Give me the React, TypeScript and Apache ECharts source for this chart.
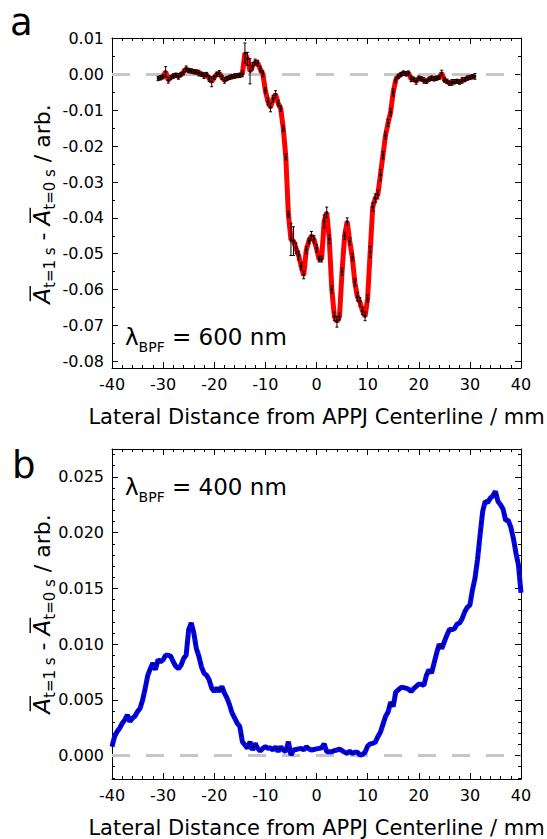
import React, { useEffect, useRef } from "react";
import * as echarts from "echarts";

// ---------- Panel a (λ_BPF = 600 nm) ----------
const X_A = [
  -31, -30.5, -30, -29.5, -29, -28.5, -28, -27.5, -27, -26.5,
  -26, -25.5, -25, -24.5, -24, -23.5, -23, -22.5, -22, -21.5,
  -21, -20.5, -20, -19.5, -19, -18.5, -18, -17.5, -17, -16.5,
  -16, -15.5, -15, -14.5, -14, -13.5, -13, -12.5, -12, -11.5,
  -11, -10.5, -10, -9.5, -9, -8.5, -8, -7.5, -7, -6.5,
  -6, -5.5, -5, -4.5, -4, -3.5, -3, -2.5, -2, -1.5,
  -1, -0.5, 0, 0.5, 1, 1.5, 2, 2.5, 3, 3.5,
  4, 4.5, 5, 5.5, 6, 6.5, 7, 7.5, 8, 8.5,
  9, 9.5, 10, 10.5, 11, 11.5, 12, 12.5, 13, 13.5,
  14, 14.5, 15, 15.5, 16, 16.5, 17, 17.5, 18, 18.5,
  19, 19.5, 20, 20.5, 21, 21.5, 22, 22.5, 23, 23.5,
  24, 24.5, 25, 25.5, 26, 26.5, 27, 27.5, 28, 28.5,
  29, 29.5, 30, 30.5, 31,
];
const Y_A = [
  -0.0011, -0.0009, -0.0006, 0.0008, -0.0016, -0.0008, -0.0004, -0.0002, -0.0005, 0.0,
  0.0007, 0.0016, 0.0011, 0.001, 0.0008, 0.0007, 0.0004, 0.0001, -0.0003, 0.0,
  -0.0011, -0.002, -0.0008, 0.0001, 0.0003, -0.0008, -0.0016, -0.0011, -0.0008, -0.0006,
  -0.0004, -0.0003, -0.0002, 0.0002, 0.006, 0.0044, 0.0009, 0.0023, 0.0035, 0.0032,
  0.0015, 0.0002, -0.0045, -0.0075, -0.0092, -0.0068, -0.0055, -0.008, -0.0095, -0.015,
  -0.023, -0.039, -0.046, -0.0465, -0.0485, -0.0505, -0.0535, -0.056, -0.049, -0.0465,
  -0.045, -0.046, -0.0485, -0.0515, -0.0515, -0.041, -0.0385, -0.046, -0.06, -0.0675,
  -0.069, -0.0675, -0.055, -0.045, -0.041, -0.0465, -0.051, -0.058, -0.062, -0.0635,
  -0.066, -0.0675, -0.0625, -0.0495, -0.037, -0.0345, -0.0335, -0.028, -0.0225, -0.017,
  -0.0135, -0.0105, -0.005, -0.0015, -0.0005, 0.0, 0.0004, 0.0002, 0.0004, -0.0012,
  -0.0013, -0.0019, -0.001, -0.0012, -0.0016, -0.0019, -0.0013, -0.001, -0.0012, -0.001,
  -0.0008, 0.0004, -0.0015, -0.0019, -0.0024, -0.0022, -0.002, -0.0019, -0.0021, -0.0016,
  -0.0014, -0.001, -0.0008, -0.0006, -0.0005,
];
const ERR_A = [
  0.0006, 0.0006, 0.0006, 0.0014, 0.0008, 0.0006, 0.0006, 0.0006, 0.0008, 0.0006,
  0.0008, 0.0008, 0.0006, 0.0006, 0.0006, 0.0006, 0.0008, 0.0006, 0.0008, 0.0006,
  0.0008, 0.0014, 0.0006, 0.0006, 0.0008, 0.0006, 0.0008, 0.0006, 0.0006, 0.0006,
  0.0006, 0.0006, 0.0006, 0.0008, 0.0028, 0.0018, 0.0035, 0.001, 0.0008, 0.0008,
  0.0008, 0.0008, 0.0008, 0.001, 0.0012, 0.001, 0.001, 0.0008, 0.0008, 0.0008,
  0.0008, 0.0008, 0.0045, 0.004, 0.0015, 0.0012, 0.001, 0.001, 0.001, 0.0008,
  0.0012, 0.001, 0.001, 0.0008, 0.0008, 0.0018, 0.0015, 0.0012, 0.001, 0.0012,
  0.0015, 0.001, 0.001, 0.001, 0.001, 0.001, 0.001, 0.001, 0.0012, 0.0012,
  0.001, 0.0012, 0.001, 0.0015, 0.0012, 0.0012, 0.0012, 0.0015, 0.001, 0.001,
  0.001, 0.001, 0.001, 0.0008, 0.0006, 0.0006, 0.0006, 0.0006, 0.0006, 0.0008,
  0.0006, 0.0008, 0.0006, 0.0006, 0.0008, 0.0006, 0.0006, 0.0006, 0.0006, 0.0006,
  0.0006, 0.0008, 0.0006, 0.0006, 0.0006, 0.0008, 0.0006, 0.0006, 0.0006, 0.0008,
  0.0006, 0.0006, 0.0006, 0.0006, 0.0008,
];

// ---------- Panel b (λ_BPF = 400 nm) ----------
const X_B = [
  -40, -39.5, -39, -38.5, -38, -37.5, -37, -36.5, -36, -35.5,
  -35, -34.5, -34, -33.5, -33, -32.5, -32, -31.5, -31, -30.5,
  -30, -29.5, -29, -28.5, -28, -27.5, -27, -26.5, -26, -25.5,
  -25, -24.5, -24, -23.5, -23, -22.5, -22, -21.5, -21, -20.5,
  -20, -19.5, -19, -18.5, -18, -17.5, -17, -16.5, -16, -15.5,
  -15, -14.5, -14, -13.5, -13, -12.5, -12, -11.5, -11, -10.5,
  -10, -9.5, -9, -8.5, -8, -7.5, -7, -6.5, -6, -5.5,
  -5, -4.5, -4, -3.5, -3, -2.5, -2, -1.5, -1, -0.5,
  0, 0.5, 1, 1.5, 2, 2.5, 3, 3.5, 4, 4.5,
  5, 5.5, 6, 6.5, 7, 7.5, 8, 8.5, 9, 9.5,
  10, 10.5, 11, 11.5, 12, 12.5, 13, 13.5, 14, 14.5,
  15, 15.5, 16, 16.5, 17, 17.5, 18, 18.5, 19, 19.5,
  20, 20.5, 21, 21.5, 22, 22.5, 23, 23.5, 24, 24.5,
  25, 25.5, 26, 26.5, 27, 27.5, 28, 28.5, 29, 29.5,
  30, 30.5, 31, 31.5, 32, 32.5, 33, 33.5, 34, 34.5,
  35, 35.5, 36, 36.5, 37, 37.5, 38, 38.5, 39, 39.5,
  40,
];
const Y_B = [
  0.0008, 0.0017, 0.00215, 0.00245, 0.0029, 0.0032, 0.00365, 0.00305, 0.00335, 0.00355,
  0.00395, 0.00425, 0.005, 0.00605, 0.0072, 0.0078, 0.0083, 0.0077, 0.0086, 0.0084,
  0.0086, 0.009, 0.009, 0.0089, 0.0084, 0.008, 0.0078, 0.0081, 0.0087, 0.009,
  0.0113, 0.0119, 0.011, 0.0096, 0.0089, 0.00795, 0.0074, 0.0072, 0.0068, 0.00605,
  0.00575, 0.00605, 0.00575, 0.0062, 0.0056, 0.00515, 0.00455, 0.0038, 0.00335, 0.0029,
  0.0026, 0.00125, 0.00095, 0.00065, 0.00125, 0.0005, 0.0011, 0.00065, 0.0004, 0.00065,
  0.0008, 0.00065, 0.0007, 0.0005, 0.0008, 0.00035, 0.0008, 0.0005, 0.00035, 0.00125,
  0.00005, 0.0005, 0.00055, 0.0006, 0.00065, 0.0005, 0.0008, 0.0006, 0.0005, 0.00055,
  0.0006, 0.00065, 0.0007, 0.00105, 0.00035, 0.00035, 0.00035, 0.00045, 0.0005, 0.00057,
  0.00045, 0.0003, 0.0002, 0.0004, 0.0002, 0.0003, 0.0003, 0.00005, 0.0001, 0.0003,
  0.00085, 0.00105, 0.0011, 0.0012, 0.0017, 0.0021, 0.0028, 0.0035, 0.0039, 0.0048,
  0.0044, 0.0057, 0.0059, 0.0061, 0.0061, 0.00605, 0.00595, 0.00575, 0.006, 0.0062,
  0.0064, 0.0064, 0.0063, 0.0072, 0.0077, 0.0074, 0.0083, 0.0092, 0.01, 0.0096,
  0.0102, 0.0108, 0.0113, 0.0113, 0.0114, 0.0118, 0.0119, 0.0123, 0.0129, 0.0133,
  0.0135, 0.01485, 0.0159, 0.0176, 0.0198, 0.0219, 0.0228, 0.0227, 0.0231, 0.0233,
  0.0237, 0.0228, 0.0225, 0.0221, 0.0211, 0.0211, 0.0205, 0.0195, 0.0182, 0.0171,
  0.0146,
];

const X_NAME = "Lateral Distance from APPJ Centerline / mm";
const LABEL_A = { sym: "λ", sub: "BPF", rest: " = 600 nm" };
const LABEL_B = { sym: "λ", sub: "BPF", rest: " = 400 nm" };

const FAM = "DejaVu Sans";
const FONT = '"DejaVu Sans", sans-serif';
const CENTRAL_DV = 0.346;

function measure(text: string, size: number, italic = false, fam = FAM) {
  const c = document.createElement("canvas");
  const ctx = c.getContext("2d")!;
  ctx.font = `${italic ? "italic " : ""}${size}px "${fam}"`;
  return ctx.measureText(text).width;
}

type Piece = { t: string; size: number; italic?: boolean; dy?: number; over?: boolean };

function run(pieces: Piece[], startX: number, baseline: number) {
  const els: any[] = [];
  let x = startX;
  for (const p of pieces) {
    const w = measure(p.t, p.size, !!p.italic);
    const by = baseline + (p.dy || 0);
    els.push({
      type: "text",
      x,
      y: by - CENTRAL_DV * p.size,
      silent: true,
      style: {
        text: p.t,
        fontSize: p.size,
        fontFamily: FONT,
        fontStyle: p.italic ? "italic" : "normal",
        fill: "#000",
        align: "left",
        verticalAlign: "middle",
        textAlign: "left",
        textVerticalAlign: "middle",
      },
    });
    if (p.over) {
      const oy = by - p.size * 0.86;
      els.push({
        type: "line",
        silent: true,
        shape: { x1: x + 2.5, y1: oy, x2: x + w + 2, y2: oy },
        style: { stroke: "#000", lineWidth: 1.4 },
      });
    }
    x += w;
  }
  return { els, width: x - startX };
}

function yTitle(xb: number, cy: number) {
  const pieces: Piece[] = [
    { t: "A", size: 23, italic: true, over: true },
    { t: "t=1 s", size: 15, dy: 5 },
    { t: " - ", size: 22 },
    { t: "A", size: 23, italic: true, over: true },
    { t: "t=0 s", size: 15, dy: 5 },
    { t: " / arb.", size: 22 },
  ];
  const w = run(pieces, 0, 0).width;
  const r = run(pieces, -w / 2, 0);
  return { type: "group", x: xb, y: cy, rotation: Math.PI / 2, children: r.els, silent: true };
}

function lambdaLabel(x0: number, baseline: number, lab: { sym: string; sub: string; rest: string }) {
  return {
    type: "group",
    silent: true,
    children: run(
      [
        { t: lab.sym, size: 23 },
        { t: lab.sub, size: 14, dy: 7 },
        { t: lab.rest, size: 23 },
      ],
      x0,
      baseline
    ).els,
  };
}

function panelLetter(t: string, x: number, baseline: number) {
  const size = 37;
  return {
    type: "text",
    x,
    y: baseline - CENTRAL_DV * size,
    silent: true,
    style: {
      text: t,
      fontSize: size,
      fontFamily: FONT,
      fill: "#000",
      align: "left",
      verticalAlign: "middle",
      textAlign: "left",
      textVerticalAlign: "middle",
    },
  };
}

const BLACK = { color: "#000", width: 1 };

function xAxes(gridIndex: number) {
  const common: any = {
    type: "value",
    gridIndex,
    min: -40,
    max: 40,
    interval: 10,
    axisLine: { show: true, onZero: false, lineStyle: BLACK },
    axisTick: { show: true, inside: true, length: 6, lineStyle: BLACK },
    minorTick: { show: true, splitNumber: 5, length: 3, lineStyle: BLACK },
    splitLine: { show: false },
    minorSplitLine: { show: false },
  };
  return [
    {
      ...common,
      position: "bottom",
      axisLabel: {
        show: true,
        margin: 8,
        fontSize: 16,
        fontFamily: FONT,
        color: "#000",
        formatter: (v: number) => String(v),
      },
      name: X_NAME,
      nameLocation: "middle",
      nameGap: 38,
      nameTextStyle: { fontSize: 21, fontFamily: FONT, color: "#000" },
    },
    { ...common, position: "top", axisLabel: { show: false } },
  ];
}

function yAxes(gridIndex: number, min: number, max: number, splitNumber: number, minor: number, step: number, dec: number) {
  const common: any = {
    type: "value",
    gridIndex,
    min,
    max,
    splitNumber,
    axisLine: { show: true, onZero: false, lineStyle: BLACK },
    axisTick: { show: true, inside: true, length: 6, lineStyle: BLACK },
    minorTick: { show: true, splitNumber: minor, length: 3, lineStyle: BLACK },
    splitLine: { show: false },
    minorSplitLine: { show: false },
  };
  return [
    {
      ...common,
      position: "left",
      axisLabel: {
        show: true,
        margin: 8,
        fontSize: 16,
        fontFamily: FONT,
        color: "#000",
        formatter: (v: number) => {
          const k = v / step;
          if (Math.abs(k - Math.round(k)) > 1e-6) return "";
          if (Math.abs(v) < 1e-12) return (0).toFixed(dec);
          return v.toFixed(dec);
        },
      },
    },
    { ...common, position: "right", axisLabel: { show: false } },
  ];
}

const zeroMark = {
  silent: true,
  symbol: ["none", "none"],
  z: 1,
  label: { show: false },
  lineStyle: { type: [18, 16], color: "#c6c6c6", width: 3 },
  data: [{ yAxis: 0 }],
};

export default function App() {
  const ref = useRef<HTMLDivElement>(null);
  useEffect(() => {
    const chart = echarts.init(ref.current!, null, { renderer: "svg" });
    const dataA = X_A.map((x, i) => [x, Y_A[i]]);
    const errA = X_A.map((x, i) => [x, Y_A[i], ERR_A[i]]);
    const dataB = X_B.map((x, i) => [x, Y_B[i]]);

    const option: any = {
      animation: false,
      backgroundColor: "#fff",
      grid: [
        { left: 112, top: 38, width: 409, height: 330, containLabel: false, outerBoundsMode: "none" },
        { left: 112, top: 449, width: 409, height: 330, containLabel: false, outerBoundsMode: "none" },
      ],
      xAxis: [...xAxes(0), ...xAxes(1)],
      yAxis: [
        ...yAxes(0, -0.0819, 0.0102, 9, 2, 0.01, 2),
        ...yAxes(1, -0.0021, 0.0275, 6, 5, 0.005, 3),
      ],
      series: [
        {
          type: "line",
          xAxisIndex: 0,
          yAxisIndex: 0,
          data: dataA,
          showSymbol: false,
          silent: true,
          z: 2,
          lineStyle: { color: "#ff0000", width: 5 },
          markLine: zeroMark,
        },
        {
          type: "custom",
          xAxisIndex: 0,
          yAxisIndex: 0,
          data: errA,
          silent: true,
          z: 3,
          encode: { x: 0, y: 1 },
          renderItem: (_p: any, api: any) => {
            const x = api.value(0);
            const y = api.value(1);
            const e = api.value(2);
            const t = api.coord([x, y + e]);
            const b = api.coord([x, y - e]);
            const c = api.coord([x, y]);
            const cap = 1.5;
            const st = { stroke: "#000", lineWidth: 1 };
            return {
              type: "group",
              children: [
                { type: "line", shape: { x1: t[0], y1: t[1], x2: b[0], y2: b[1] }, style: st },
                { type: "line", shape: { x1: t[0] - cap, y1: t[1], x2: t[0] + cap, y2: t[1] }, style: st },
                { type: "line", shape: { x1: b[0] - cap, y1: b[1], x2: b[0] + cap, y2: b[1] }, style: st },
                { type: "rect", shape: { x: c[0] - 1.2, y: c[1] - 1.2, width: 2.4, height: 2.4 }, style: { fill: "#000" } },
              ],
            };
          },
        },
        {
          type: "line",
          xAxisIndex: 2,
          yAxisIndex: 2,
          data: dataB,
          showSymbol: false,
          silent: true,
          z: 2,
          lineStyle: { color: "#0000ff", width: 5 },
          markLine: zeroMark,
        },
        {
          type: "line",
          xAxisIndex: 2,
          yAxisIndex: 2,
          data: dataB,
          showSymbol: false,
          silent: true,
          z: 3,
          lineStyle: { color: "#000", width: 1.6, type: [3, 4] },
        },
      ],
      graphic: {
        elements: [
          panelLetter("a", 10, 35.5),
          panelLetter("b", 12, 478),
          lambdaLabel(125, 344.5, LABEL_A),
          lambdaLabel(125, 495, LABEL_B),
          yTitle(50, 204),
          yTitle(50, 614),
        ],
      },
    };
    chart.setOption(option);
    return () => chart.dispose();
  }, []);
  return (
    <div
      ref={ref}
      style={{ position: "absolute", left: 0, top: 0, width: 547, height: 839, background: "#fff" }}
    />
  );
}
